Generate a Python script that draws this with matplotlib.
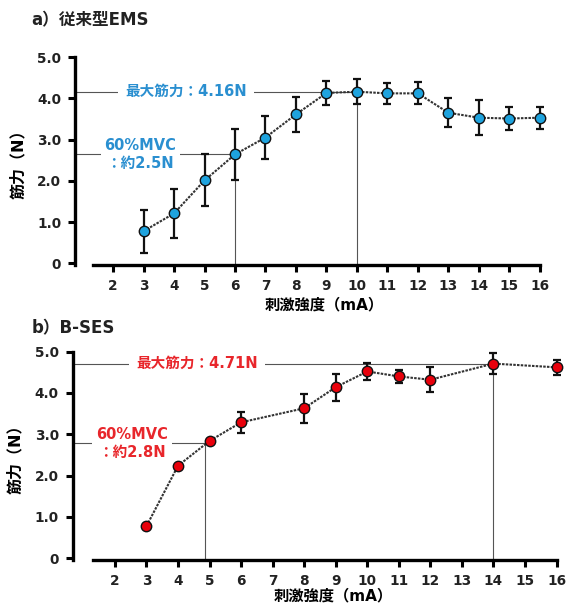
import matplotlib
matplotlib.use("Agg")
import matplotlib.pyplot as plt

plt.rcParams['font.family'] = ['DejaVu Sans', 'Noto Sans CJK JP']
plt.rcParams['font.weight'] = 'bold'

# stimulation intensity (mA) and muscle force (N), mean and SD
ems_x = [3, 4, 5, 6, 7, 8, 9, 10, 11, 12, 13, 14, 15, 16]
ems_mean = [0.78, 1.21, 2.01, 2.64, 3.05, 3.61, 4.13, 4.16, 4.12, 4.12, 3.65, 3.53, 3.51, 3.53]
ems_sd = [0.52, 0.60, 0.63, 0.62, 0.53, 0.43, 0.29, 0.30, 0.26, 0.27, 0.35, 0.42, 0.28, 0.27]

ses_x = [3, 4, 5, 6, 8, 9, 10, 11, 12, 14, 16]
ses_mean = [0.78, 2.24, 2.84, 3.29, 3.63, 4.14, 4.52, 4.40, 4.32, 4.71, 4.62]
ses_sd = [0, 0, 0, 0.26, 0.35, 0.33, 0.20, 0.15, 0.30, 0.25, 0.18]

x_ticks = list(range(2, 17))
y_ticks = [0, 1, 2, 3, 4, 5]
y_ticklabels = ['0', '1.0', '2.0', '3.0', '4.0', '5.0']

# 60%MVC crossing points (mA, N)
ems_mvc60 = (6, 2.64)
ses_mvc60 = (4.85, 2.78)

BLUE = '#1ea3de'
BLUE_TXT = '#2a8fd0'
RED = '#e8000b'
RED_TXT = '#e8262b'

fig = plt.figure(figsize=(5.75, 6.11), dpi=100)


def panel(rect, xlim, xs, means, sds, color, txt_color, max_label, max_x,
          mvc, mvc_label, max_txt_x, mvc_txt_x, spine_start, xlabel_pos):
    ax = fig.add_axes(rect)
    ax.set_xlim(*xlim)
    ax.set_ylim(-0.04, 5.05)
    for s in ('top', 'right'):
        ax.spines[s].set_visible(False)
    ax.spines['left'].set_linewidth(2.4)
    ax.spines['bottom'].set_linewidth(2.4)
    ax.spines['left'].set_bounds(-0.04, 5.0)
    ax.spines['bottom'].set_bounds(spine_start, 16)
    ax.set_xticks(x_ticks)
    ax.set_yticks(y_ticks)
    ax.set_yticklabels(y_ticklabels)
    ax.tick_params(axis='both', direction='out', length=5, width=2.2,
                   labelsize=9.8, pad=5, color='black')
    for lab in ax.get_xticklabels() + ax.get_yticklabels():
        lab.set_fontweight('bold')
        lab.set_color('#222222')

    max_y = means[xs.index(max_x)]
    ln = dict(color='#555555', lw=0.8, zorder=1)
    # max force guide lines
    ax.plot([xlim[0], max_x], [max_y, max_y], **ln)
    ax.plot([max_x, max_x], [-0.04, max_y], **ln)
    # 60%MVC guide lines
    ax.plot([xlim[0], mvc[0]], [mvc[1], mvc[1]], **ln)
    ax.plot([mvc[0], mvc[0]], [-0.04, mvc[1]], **ln)

    ax.errorbar(xs, means, yerr=sds, fmt='none', ecolor='#111111',
                elinewidth=1.6, capsize=3, capthick=1.6, zorder=3)
    ax.plot(xs, means, linestyle=(0, (1.2, 0.6)), color='#333333', lw=1.5,
            zorder=4)
    ax.plot(xs, means, linestyle='none', marker='o', markersize=7.5,
            markerfacecolor=color, markeredgecolor='#111111',
            markeredgewidth=1.0, zorder=5)

    ax.text(max_txt_x, max_y, max_label, color=txt_color, fontsize=10.5,
            fontweight='bold', ha='center', va='center',
            bbox=dict(boxstyle='square,pad=0.5', fc='white', ec='none'),
            zorder=2)
    ax.text(mvc_txt_x, mvc[1], mvc_label, color=txt_color, fontsize=10.5,
            fontweight='bold', ha='center', va='center',
            bbox=dict(boxstyle='square,pad=0.25', fc='white', ec='none'),
            linespacing=1.2, zorder=2)
    ax.set_ylabel('筋力（N）', fontsize=11.5, fontweight='bold', labelpad=8)
    ax.set_xlabel('刺激強度（mA）', fontsize=11, fontweight='bold')
    ax.xaxis.set_label_coords(*xlabel_pos)
    return ax


ax1 = panel([0.1304, 0.5663, 0.8243, 0.3437], (0.75, 16.3),
            ems_x, ems_mean, ems_sd, BLUE, BLUE_TXT,
            '最大筋力：4.16N', 10, ems_mvc60, '60%MVC\n：約2.5N',
            4.39, 2.89, 1.34, (0.525, -0.19))
ax2 = panel([0.1264, 0.0835, 0.858, 0.3444], (0.66, 16.3),
            ses_x, ses_mean, ses_sd, RED, RED_TXT,
            '最大筋力：4.71N', 14, ses_mvc60, '60%MVC\n：約2.8N',
            4.6, 2.54, 1.30, (0.528, -0.171))
for ax in (ax1, ax2):
    ax.xaxis.label.set_va('center')

fig.text(0.055, 0.966, 'a）従来型EMS', fontsize=12, fontweight='bold',
         ha='left', va='center', color='#222222')
fig.text(0.055, 0.463, 'b）B-SES', fontsize=12, fontweight='bold',
         ha='left', va='center', color='#222222')

fig.savefig('out.png', dpi=100)
